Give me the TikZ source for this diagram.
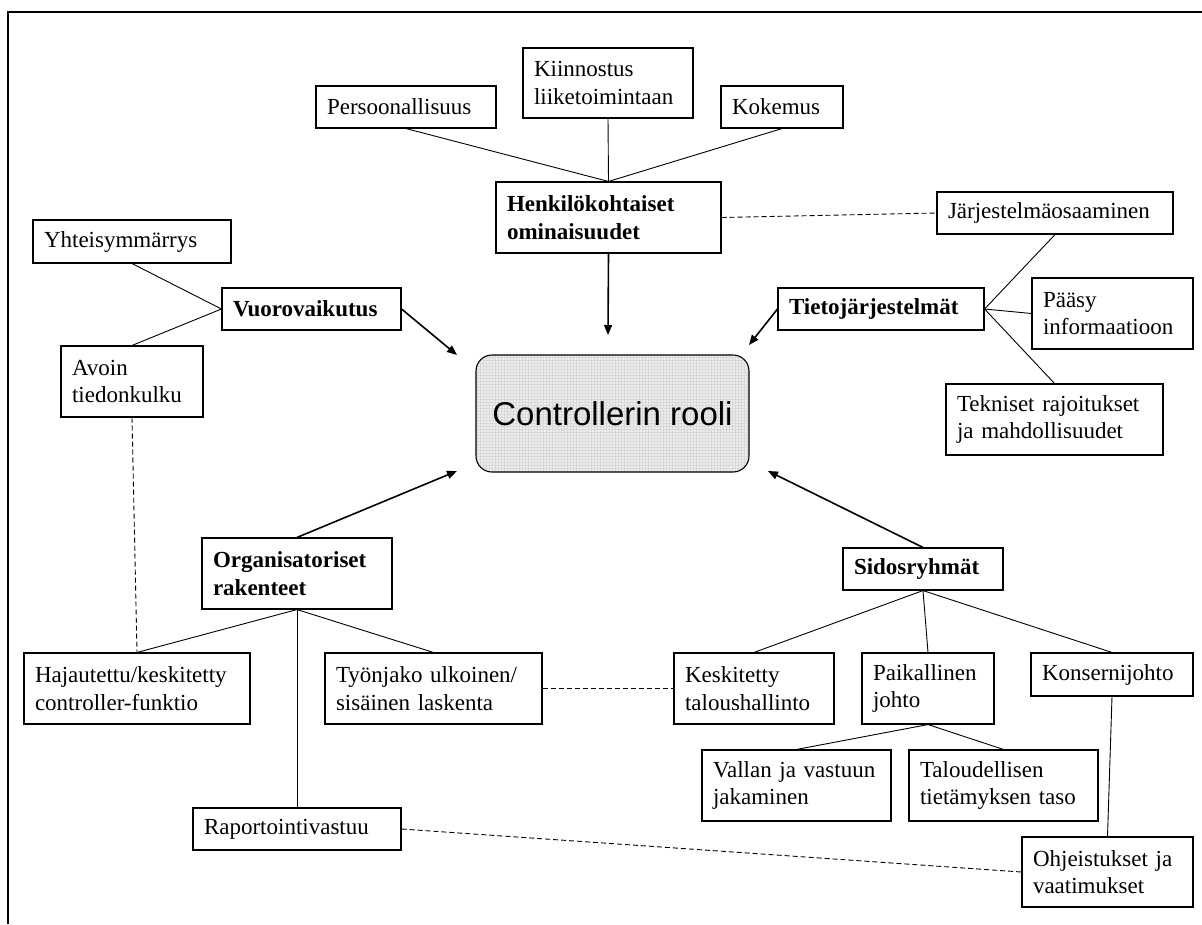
\documentclass[tikz,border=0pt]{standalone}
\usepackage{fontspec}
\setmainfont{Liberation Serif}
\newfontfamily\arialfont{Liberation Sans}
\usetikzlibrary{arrows.meta,patterns}
\tikzset{
  box/.style={draw, line width=1.1pt, rectangle, inner xsep=11pt, inner ysep=0pt,
    align=left, font=\fontsize{23}{27.5}\selectfont},
  bbox/.style={box, font=\fontsize{23}{27.5}\selectfont\bfseries},
  link/.style={line width=0.9pt},
  dlink/.style={line width=0.9pt, dash pattern=on 5pt off 3pt},
  arr/.style={line width=1.6pt, -{Triangle[length=10pt,width=8pt]}},
}
\newcommand{\bx}[6]{% style, name, cx, cy, W, H ; text follows
  \node[#1, minimum width=#5pt, minimum height=#6pt, text width=#5pt-22pt] (#2) at (#3,#4)}
\begin{document}
\begin{tikzpicture}[x=1pt,y=-1pt]
\useasboundingbox (0,0) rectangle (1202,924);
% frame
\draw[line width=2.5pt] (8,924) -- (8,12) -- (1202,12);

\bx{box}{pers}{406}{107}{180}{42} {Persoonallisuus};
\bx{box}{kiin}{608}{83}{170}{70} {Kiinnostus\\liiketoimintaan};
\bx{box}{koke}{782}{107}{122}{42} {Kokemus};
\bx{bbox}{henk}{608.5}{217.5}{225}{71} {Henkilökohtaiset\\ominaisuudet};
\bx{box}{jarj}{1055}{213}{236}{42} {Järjestelmäosaaminen};
\bx{box}{yhte}{132}{241.5}{198}{43} {Yhteisymmärrys};
\bx{bbox}{vuor}{311.5}{309}{179}{42} {Vuorovaikutus};
\bx{bbox}{tieto}{881}{309}{206}{42} {Tietojärjestelmät};
\bx{box}{paas}{1112.5}{313.5}{161}{71} {Pääsy\\informaatioon};
\bx{box}{avoi}{132}{381.5}{142}{71} {Avoin\\tiedonkulku};
\bx{box}{tekn}{1054.5}{419.5}{217}{71} {Tekniset rajoitukset\\ja mahdollisuudet};
\node[draw, line width=1.1pt, rounded corners=16pt,
  preaction={fill=gray!14}, preaction={pattern=grid, pattern color=gray!30},
  minimum width=273pt, minimum height=117pt,
  font=\arialfont\fontsize{33}{40}\selectfont] (ctrl) at (612.5,413.5) {Controllerin rooli};
\bx{bbox}{org}{297}{573.5}{190}{71} {Organisatoriset\\rakenteet};
\bx{bbox}{sido}{923}{569}{160}{42} {Sidosryhmät};
\bx{box}{haja}{137}{688.5}{226}{71} {Hajautettu/keskitetty\\controller-funktio};
\bx{box}{tyon}{433.5}{688.5}{217}{71} {Työnjako ulkoinen/\\sisäinen laskenta};
\bx{box}{kesk}{754}{688.5}{160}{71} {Keskitetty\\taloushallinto};
\bx{box}{paik}{928}{688.5}{132}{71} {Paikallinen\\johto};
\bx{box}{kons}{1112}{674.5}{162}{43} {Konsernijohto};
\bx{box}{vall}{796.5}{785.5}{189}{71} {Vallan ja vastuun\\jakaminen};
\bx{box}{talo}{1003.5}{785.5}{189}{71} {Taloudellisen\\tietämyksen taso};
\bx{box}{rapo}{297}{829}{208}{42} {Raportointivastuu};
\bx{box}{ohje}{1107.5}{872}{171}{70} {Ohjeistukset ja\\vaatimukset};

% arrow targets
\coordinate (tH) at (608,335);
\coordinate (tV) at (457,355);
\coordinate (tT) at (749,345);
\coordinate (tO) at (457,471);
\coordinate (tS) at (768,471);

% connectors
\draw[link] (pers.south) -- (henk.north);
\draw[link] (kiin.south) -- (henk.north);
\draw[link] (koke.south) -- (henk.north);
\draw[dlink] (henk.east) -- (jarj.west);
\draw[link] (jarj.south) -- (tieto.east);
\draw[link] (tieto.east) -- (paas.west);
\draw[link] (tieto.east) -- (tekn.north);
\draw[link] (yhte.south) -- (vuor.west);
\draw[link] (vuor.west) -- (avoi.north);
\draw[dlink] (avoi.south) -- (haja.north);
\draw[link] (org.south) -- (haja.north);
\draw[link] (org.south) -- (tyon.north);
\draw[link] (org.south) -- (rapo.north);
\draw[dlink] (tyon.east) -- (kesk.west);
\draw[dlink] (rapo.east) -- (ohje.west);
\draw[link] (sido.south) -- (kesk.north);
\draw[link] (sido.south) -- (paik.north);
\draw[link] (sido.south) -- (kons.north);
\draw[link] (paik.south) -- (vall.north);
\draw[link] (paik.south) -- (talo.north);
\draw[link] (kons.south) -- (ohje.north);

% arrows
\draw[arr] (henk.south) -- (tH);
\draw[arr] (vuor.east) -- (tV);
\draw[arr] (tieto.west) -- (tT);
\draw[arr] (org.north) -- (tO);
\draw[arr] (sido.north) -- (tS);
\end{tikzpicture}
\end{document}
